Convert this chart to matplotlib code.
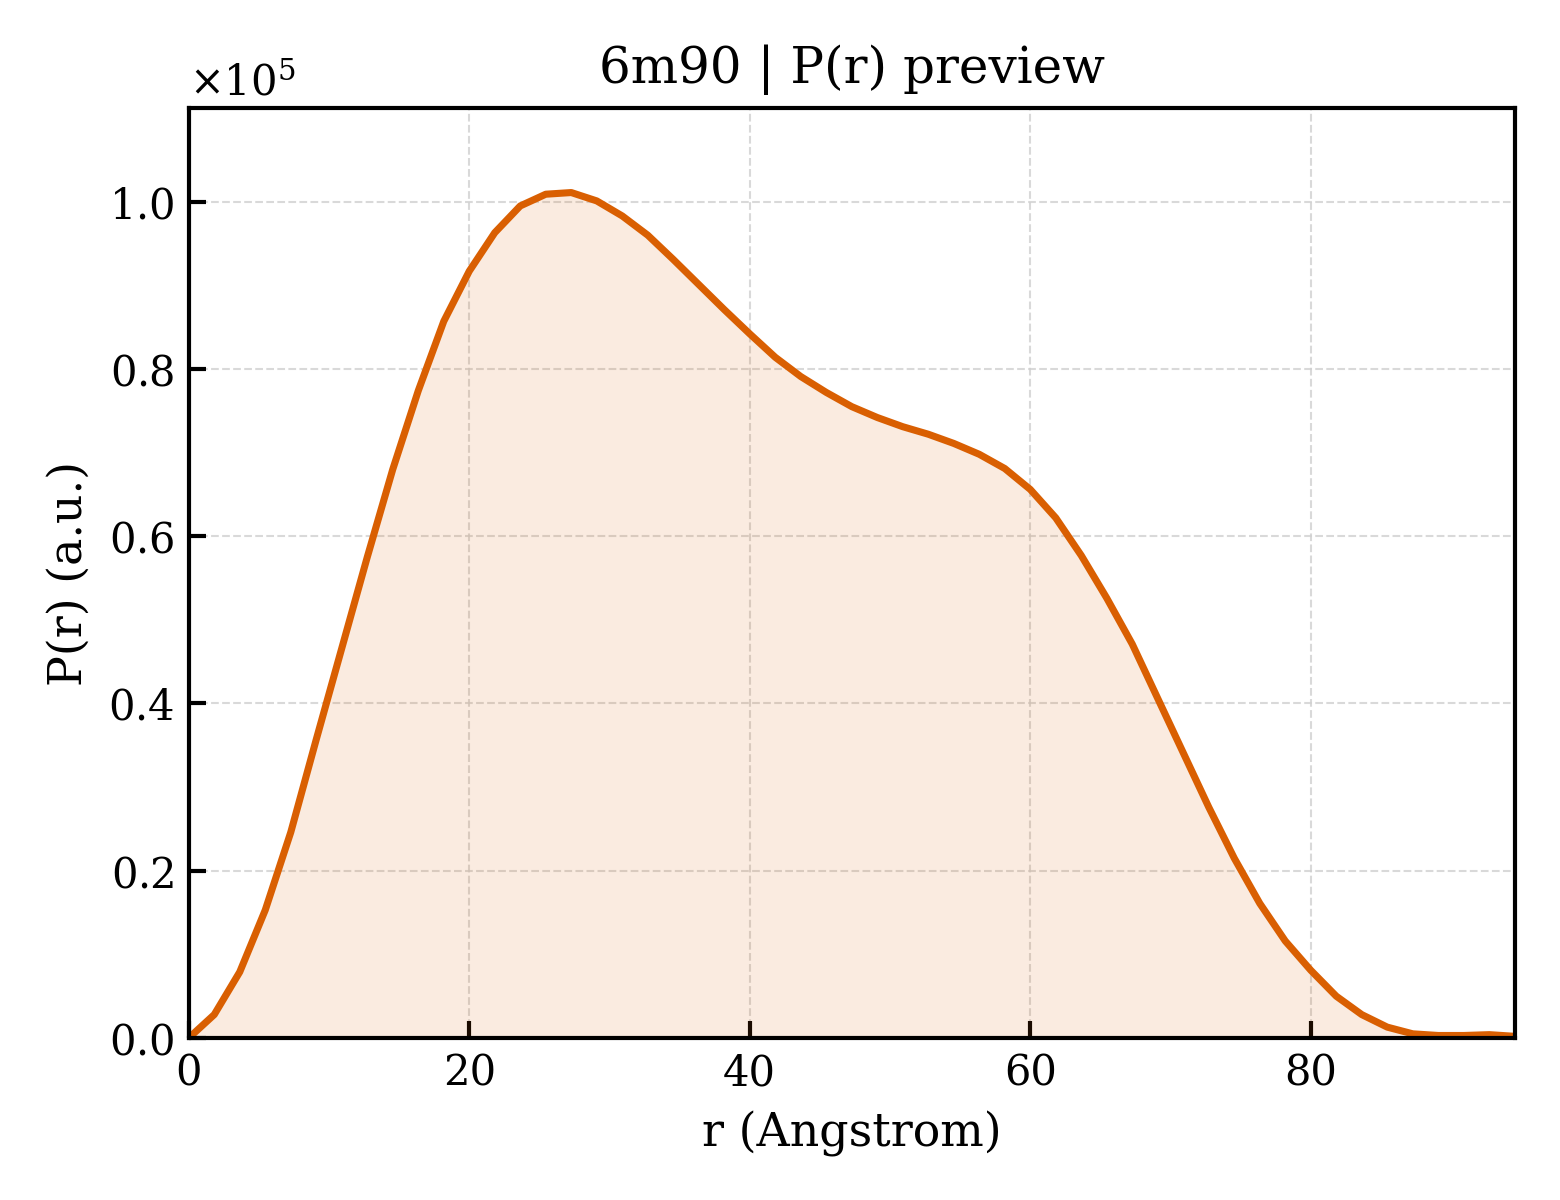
import numpy as np
import matplotlib
matplotlib.use("Agg")
import matplotlib.pyplot as plt
from matplotlib.ticker import ScalarFormatter

R_MAX = 94.55
N_PTS = 53
r = np.linspace(0, R_MAX, N_PTS)
pr_scaled = [
    0.000, 0.028, 0.079, 0.153, 0.246, 0.357, 0.466, 0.575, 0.680, 0.774,
    0.857, 0.917, 0.963, 0.995, 1.009, 1.011, 1.001, 0.983, 0.960, 0.931,
    0.901, 0.871, 0.842, 0.814, 0.791, 0.772, 0.755, 0.742, 0.731, 0.722,
    0.711, 0.698, 0.681, 0.656, 0.622, 0.577, 0.526, 0.471, 0.406, 0.341,
    0.276, 0.215, 0.161, 0.116, 0.081, 0.050, 0.028, 0.013, 0.005, 0.003,
    0.003, 0.004, 0.002,
]
pr = np.array(pr_scaled) * 1e5

LINE_COLOR = '#D95F02'

plt.rcParams['font.family'] = 'serif'
plt.rcParams['font.serif'] = ['DejaVu Serif']
plt.rcParams['mathtext.fontset'] = 'dejavuserif'

fig, ax = plt.subplots(figsize=(5.2, 4), dpi=300)
fig.subplots_adjust(left=0.121, right=0.971, top=0.91, bottom=0.135)

ax.fill_between(r, pr, 0, color=LINE_COLOR, alpha=0.12, linewidth=0)
ax.plot(r, pr, color=LINE_COLOR, linewidth=1.7)

ax.set_xlim(0, R_MAX)
ax.set_ylim(0, pr.max() * 1.1)
ax.set_xlabel("r (Angstrom)", fontsize=11)
ax.set_ylabel("P(r) (a.u.)", fontsize=11)
ax.set_title("6m90 | P(r) preview", fontsize=12)

fmt = ScalarFormatter(useMathText=True)
fmt.set_powerlimits((0, 0))
ax.yaxis.set_major_formatter(fmt)

ax.tick_params(direction='in', labelsize=10, length=4, width=1)
for sp in ax.spines.values():
    sp.set_linewidth(1)
ax.grid(True, linestyle='--', linewidth=0.5, color='#d0d0d0', alpha=0.8)
ax.set_axisbelow(True)

fig.savefig("out.png", dpi=300)
